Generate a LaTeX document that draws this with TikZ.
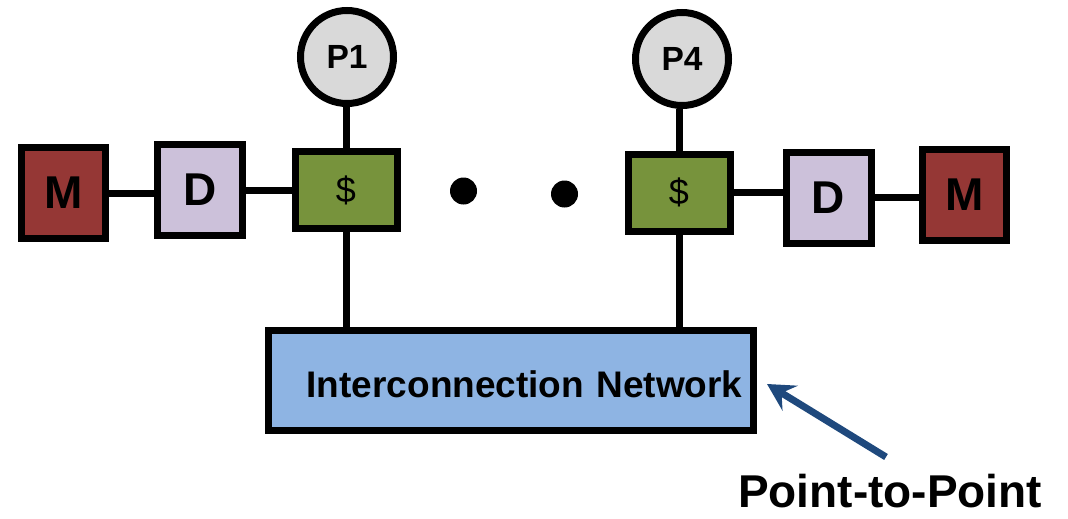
\documentclass[tikz,border=0pt]{standalone}
\usepackage{fontspec}
\setmainfont{Liberation Sans}
\usetikzlibrary{arrows.meta,positioning}
\definecolor{memred}{HTML}{953735}
\definecolor{dirlila}{HTML}{CCC1DA}
\definecolor{cchgreen}{HTML}{77933C}
\definecolor{procgray}{HTML}{D9D9D9}
\definecolor{netblue}{HTML}{8EB4E3}
\definecolor{arrblue}{HTML}{1F497D}

\begin{document}
\begin{tikzpicture}[x=1pt, y=-1pt,
  >={Stealth[length=27pt, width=29pt, inset=10pt]},
  box/.style={draw=black, line width=7pt, inner sep=0pt},
  mem/.style={box, fill=memred, minimum width=84pt, minimum height=91pt,
    font=\fontsize{46}{50}\selectfont\bfseries},
  dir/.style={box, fill=dirlila, minimum width=85pt, minimum height=91pt,
    font=\fontsize{46}{50}\selectfont\bfseries},
  cch/.style={box, fill=cchgreen, minimum width=102pt, minimum height=77pt,
    font=\fontsize{36}{40}\selectfont},
  proc/.style={box, circle, fill=procgray, minimum size=93pt,
    font=\fontsize{33.5}{36}\selectfont\bfseries},
  net/.style={box, fill=netblue, text width=463pt, inner xsep=11pt,
    align=right, text height=33pt, text depth=0pt, minimum height=100pt,
    font=\fontsize{37}{40}\selectfont\bfseries},
  dot/.style={circle, fill=black, minimum size=27pt, inner sep=0pt},
  wire/.style={line width=7pt, draw=black}]
  \useasboundingbox (0,0) rectangle (1068,519);
  % izquierda
  \node[mem]  (m1) at (63.5,193) {M};
  \node[dir]  (d1) at (200,190)  {D};
  \node[cch]  (c1) at (346,190)  {\$};
  \node[proc] (p1) at (347,57)   {P1};
  % derecha
  \node[proc] (p4) at (682,59)  {P4};
  \node[cch]  (c4) at (679,192.5) {\$};
  \node[dir]  (d4) at (828.5,197.5) {D};
  \node[mem]  (m4) at (964.5,194.5) {M};
  % puntos
  \node[dot] (dt1) at (463.5,191) {};
  \node[dot] (dt2) at (564.5,194) {};
  % red
  \node[net] (net) at (511,380.5) {Interconnection Network};
  \node[font=\fontsize{46}{50}\selectfont\bfseries, anchor=base, inner sep=0pt]
    (ptp) at (890,507) {Point-to-Point};
  \coordinate (ptail) at (886,457);
  \coordinate (ptip)  at (767,384);
  % conexiones
  \draw[wire] (m1.east) -- (m1.east -| d1.west);
  \draw[wire] (d1.east) -- (d1.east -| c1.west);
  \draw[wire] (c1.north) -- (c1.north |- p1.south);
  \draw[wire] (c1.south) -- (c1.south |- net.north);
  \draw[wire] (c4.north) -- (c4.north |- p4.south);
  \draw[wire] (c4.south) -- (c4.south |- net.north);
  \draw[wire] (c4.east) -- (c4.east -| d4.west);
  \draw[wire] (d4.east) -- (d4.east -| m4.west);
  \draw[->, line width=7pt, draw=arrblue] (ptail) -- (ptip);
\end{tikzpicture}
\end{document}
